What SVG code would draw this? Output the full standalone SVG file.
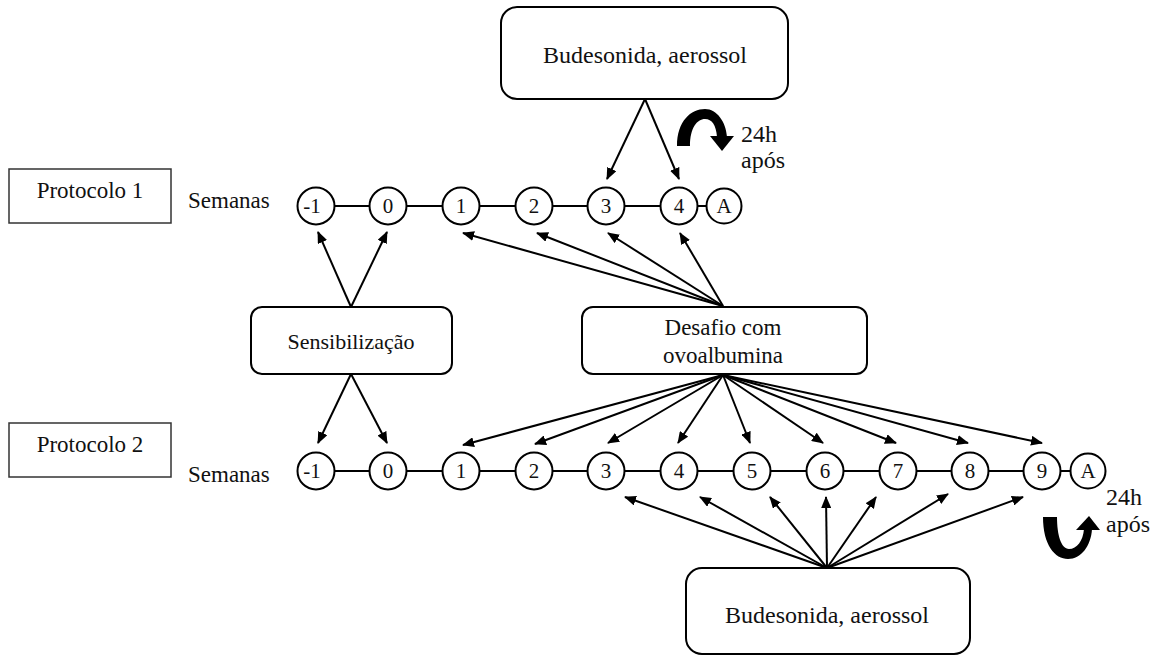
<svg xmlns="http://www.w3.org/2000/svg" width="1162" height="656" viewBox="0 0 1162 656" font-family="'Liberation Serif', 'DejaVu Serif', serif">
<defs>
<marker id="ah" markerUnits="userSpaceOnUse" markerWidth="12" markerHeight="10" refX="11" refY="5" orient="auto">
<path d="M0,0 L12,5 L0,10 z" fill="#000"/>
</marker>
<style>
text{font-family:'Liberation Serif','DejaVu Serif',serif;fill:#111;}
.t{font-size:23px;}
.c{font-size:21px;text-anchor:middle;}
.m{text-anchor:middle;}
.pb{fill:#fff;stroke:#333;stroke-width:1.5;}
.rb{fill:#fff;stroke:#000;stroke-width:2;}
.cir{fill:#fff;stroke:#000;stroke-width:2;}
.ln{stroke:#000;stroke-width:2;fill:none;}
.ar{stroke:#000;stroke-width:2;fill:none;marker-end:url(#ah);}
</style>
</defs>
<rect width="1162" height="656" fill="#fff"/>

<g id="connectors">
<path class="ln" d="M334.5,206H369.5 M406.5,206H442.5 M479.5,206H515.5 M552.5,206H587.5 M624.5,206H660.5 M697.5,206H706.5"/>
<path class="ln" d="M334.5,471H369.5 M406.5,471H442.5 M479.5,471H515.5 M552.5,471H587.5 M624.5,471H660.5 M697.5,471H733.5 M770.5,471H806.5 M843.5,471H879.5 M916.5,471H951.5 M988.5,471H1023.5 M1060.5,471H1070.5"/>
<line class="ar" x1="645" y1="99" x2="607" y2="179"/>
<line class="ar" x1="645" y1="99" x2="679" y2="179"/>
<line class="ar" x1="351" y1="307" x2="318" y2="232"/>
<line class="ar" x1="351" y1="307" x2="387" y2="232"/>
<line class="ar" x1="351" y1="374" x2="318" y2="443"/>
<line class="ar" x1="351" y1="374" x2="387" y2="443"/>
<line class="ar" x1="723" y1="306" x2="463" y2="233"/>
<line class="ar" x1="723" y1="306" x2="537" y2="233"/>
<line class="ar" x1="723" y1="306" x2="608" y2="233"/>
<line class="ar" x1="723" y1="306" x2="680" y2="233"/>
<line class="ar" x1="723" y1="375" x2="463" y2="445"/>
<line class="ar" x1="723" y1="375" x2="535" y2="444"/>
<line class="ar" x1="723" y1="375" x2="608" y2="443"/>
<line class="ar" x1="723" y1="375" x2="678" y2="443"/>
<line class="ar" x1="723" y1="375" x2="750" y2="443"/>
<line class="ar" x1="723" y1="375" x2="823" y2="443"/>
<line class="ar" x1="723" y1="375" x2="896" y2="443"/>
<line class="ar" x1="723" y1="375" x2="968" y2="443"/>
<line class="ar" x1="723" y1="375" x2="1042" y2="443"/>
<line class="ar" x1="827" y1="568" x2="625" y2="497"/>
<line class="ar" x1="827" y1="568" x2="700" y2="497"/>
<line class="ar" x1="827" y1="568" x2="770" y2="497"/>
<line class="ar" x1="827" y1="568" x2="826" y2="497"/>
<line class="ar" x1="827" y1="568" x2="876" y2="497"/>
<line class="ar" x1="827" y1="568" x2="948" y2="494"/>
<line class="ar" x1="827" y1="568" x2="1023" y2="497"/>
<path d="M677,146 C677,121 691,109 705,109 C717,109 726,122 727,137 L717,137 C716,125 712,119 705,119 C697,119 690,128 690,146 Z" fill="#000"/>
<polygon points="710,136 734,136 722,151" fill="#000"/>
<path d="M1043,517 C1043,545 1055,559 1068,559 C1081,559 1091,546 1092,529 L1084,529 C1083,541 1077,549 1069,549 C1061,549 1057,535 1057,517 Z" fill="#000"/>
<polygon points="1076,530 1100,530 1089,516" fill="#000"/>
</g>

<g id="protocolo1"><rect class="pb" x="9" y="169" width="162" height="54"/><text class="t m" x="90" y="198">Protocolo 1</text></g>
<g id="protocolo2"><rect class="pb" x="9" y="423" width="162" height="54"/><text class="t m" x="90" y="452">Protocolo 2</text></g>
<g id="semanas1"><text class="t" x="188" y="208">Semanas</text></g>
<g id="semanas2"><text class="t" x="188" y="482">Semanas</text></g>

<g id="budesonida1"><rect class="rb" x="501" y="7" width="287" height="92" rx="16"/><text class="m" x="645" y="63" style="font-size:24px">Budesonida, aerossol</text></g>
<g id="budesonida2"><rect class="rb" x="686" y="568" width="284" height="86" rx="16"/><text class="m" x="827" y="623" style="font-size:24px">Budesonida, aerossol</text></g>
<g id="sensibilizacao"><rect class="rb" x="251" y="307" width="201" height="67" rx="11"/><text class="m" x="351" y="349" style="font-size:22px">Sensibilização</text></g>
<g id="desafio"><rect class="rb" x="582" y="307" width="285" height="67" rx="11"/><text class="m" x="723" y="335" style="font-size:23px">Desafio  com</text><text class="m" x="723" y="363" style="font-size:23px">ovoalbumina</text></g>

<g id="label24h1"><text x="741" y="142" style="font-size:24px">24h</text><text x="741" y="168" style="font-size:24px">após</text></g>
<g id="label24h2"><text x="1106" y="505" style="font-size:24px">24h</text><text x="1106" y="532" style="font-size:24px">após</text></g>

<g id="p1-weeks">
<g id="p1-wm1"><circle class="cir" cx="316" cy="206" r="18.5"/><text class="c" x="312" y="213">-1</text></g>
<g id="p1-w0"><circle class="cir" cx="388" cy="206" r="18.5"/><text class="c" x="388" y="213">0</text></g>
<g id="p1-w1"><circle class="cir" cx="461" cy="206" r="18.5"/><text class="c" x="461" y="213">1</text></g>
<g id="p1-w2"><circle class="cir" cx="534" cy="206" r="18.5"/><text class="c" x="534" y="213">2</text></g>
<g id="p1-w3"><circle class="cir" cx="606" cy="206" r="18.5"/><text class="c" x="606" y="213">3</text></g>
<g id="p1-w4"><circle class="cir" cx="679" cy="206" r="18.5"/><text class="c" x="679" y="213">4</text></g>
<g id="p1-wA"><circle class="cir" cx="724" cy="206" r="17.5"/><text class="c" x="724" y="213">A</text></g>
</g>

<g id="p2-weeks">
<g id="p2-wm1"><circle class="cir" cx="316" cy="471" r="18.5"/><text class="c" x="312" y="478">-1</text></g>
<g id="p2-w0"><circle class="cir" cx="388" cy="471" r="18.5"/><text class="c" x="388" y="478">0</text></g>
<g id="p2-w1"><circle class="cir" cx="461" cy="471" r="18.5"/><text class="c" x="461" y="478">1</text></g>
<g id="p2-w2"><circle class="cir" cx="534" cy="471" r="18.5"/><text class="c" x="534" y="478">2</text></g>
<g id="p2-w3"><circle class="cir" cx="606" cy="471" r="18.5"/><text class="c" x="606" y="478">3</text></g>
<g id="p2-w4"><circle class="cir" cx="679" cy="471" r="18.5"/><text class="c" x="679" y="478">4</text></g>
<g id="p2-w5"><circle class="cir" cx="752" cy="471" r="18.5"/><text class="c" x="752" y="478">5</text></g>
<g id="p2-w6"><circle class="cir" cx="825" cy="471" r="18.5"/><text class="c" x="825" y="478">6</text></g>
<g id="p2-w7"><circle class="cir" cx="898" cy="471" r="18.5"/><text class="c" x="898" y="478">7</text></g>
<g id="p2-w8"><circle class="cir" cx="970" cy="471" r="18.5"/><text class="c" x="970" y="478">8</text></g>
<g id="p2-w9"><circle class="cir" cx="1042" cy="471" r="18.5"/><text class="c" x="1042" y="478">9</text></g>
<g id="p2-wA"><circle class="cir" cx="1088" cy="471" r="17.5"/><text class="c" x="1088" y="478">A</text></g>
</g>
</svg>
